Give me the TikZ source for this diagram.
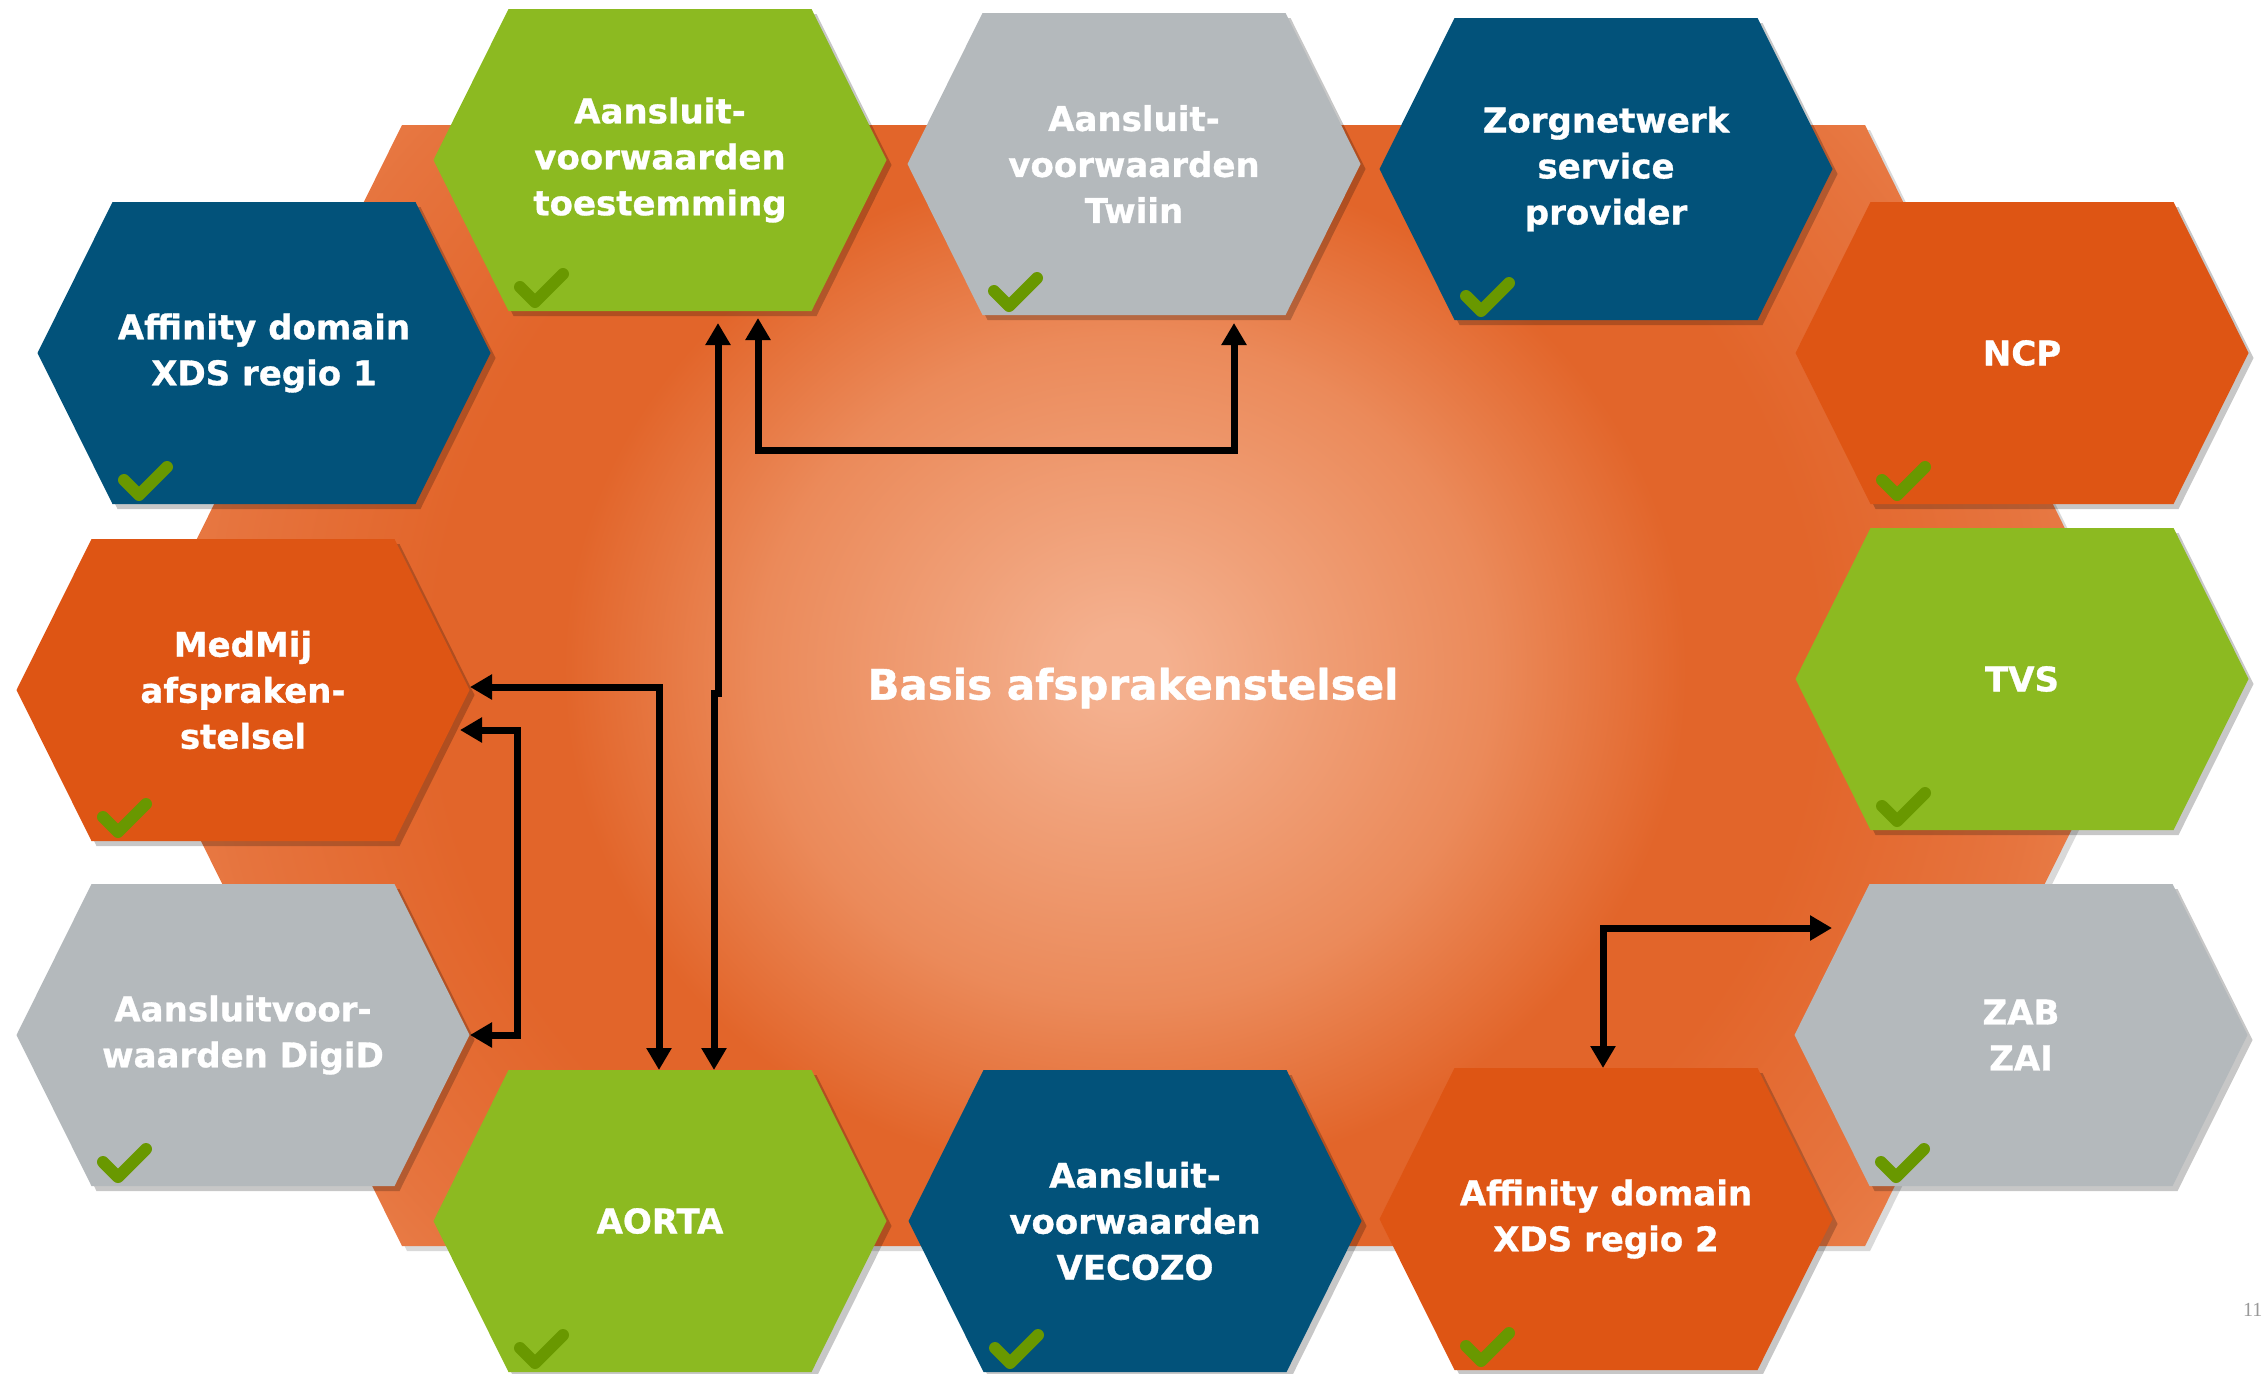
\documentclass[tikz,border=0pt]{standalone}
\usepackage{fontspec}
\setmainfont{DejaVu Sans}
\newfontfamily\heavyfont[BoldFont={DejaVu Sans Bold}, BoldFeatures={FakeBold=0.9}]{DejaVu Sans}
\newfontfamily\pgserif{Liberation Serif}
\usetikzlibrary{arrows.meta,shadows,calc}
\definecolor{hgreen}{HTML}{8CBA21}
\definecolor{hgray}{HTML}{B4B9BC}
\definecolor{hblue}{HTML}{02527A}
\definecolor{horange}{HTML}{DE5514}
\definecolor{chk}{HTML}{699800}
\definecolor{pch}{HTML}{F4B08E}
\definecolor{lorgA}{HTML}{F0A078}
\definecolor{morg}{HTML}{EB8A5A}
\definecolor{dorg}{HTML}{E2652A}
\definecolor{eorg}{HTML}{E6743E}
\definecolor{lorg}{HTML}{EC8752}
\pgfdeclareradialshading{bgshade}{\pgfpoint{0bp}{0bp}}{color(0bp)=(pch); color(1bp)=(pch); color(4bp)=(lorgA); color(8.5bp)=(morg); color(13bp)=(dorg); color(16bp)=(dorg); color(21bp)=(eorg); color(25bp)=(lorg); color(50bp)=(lorg)}
\tikzset{
  hexshadow/.style={drop shadow={shadow xshift=5pt, shadow yshift=-5pt, opacity=0.22, fill=black}},
  hexlabel/.style={text=white, align=center, font=\heavyfont\bfseries\fontsize{34}{46}\selectfont, inner sep=0pt},
  titlelabel/.style={text=white, font=\heavyfont\bfseries\fontsize{42}{50}\selectfont, inner sep=0pt},
  checkmark/.style={chk, line width=12pt, line cap=round, line join=round},
  conn/.style={line width=7pt, line join=miter, {Triangle[length=22pt,width=24pt]}-{Triangle[length=22pt,width=24pt]}},
  pagenum/.style={text=black!40, font=\pgserif\fontsize{20}{24}\selectfont, anchor=west, inner sep=0pt}
}
\newcommand\hexa[5]{%
  \begin{scope}[shift={(#2,#3)}]
    \fill[#4, hexshadow] (-226.5,0) -- (-151.5,-151) -- (151.5,-151) -- (226.5,0) -- (151.5,151) -- (-151.5,151) -- cycle;
    \draw[checkmark] (-140,127) -- (-125,142) -- (-97,114);
    \node[hexlabel] (#1) at (0,0) {#5};
  \end{scope}}
\begin{document}
\begin{tikzpicture}[x=1pt,y=-1pt]
\useasboundingbox (0,0) rectangle (2266,1373);
\fill[white] (0,0) rectangle (2266,1373);
% background hexagon
\fill[black, opacity=0.15] (129,691) -- (407,130) -- (1870,130) -- (2148,691) -- (1870,1251) -- (407,1251) -- cycle;
\begin{scope}
  \clip (124,686) -- (402,125) -- (1865,125) -- (2143,686) -- (1865,1246) -- (402,1246) -- cycle;
  \shade[shading=bgshade] (1125,670) ellipse[x radius=1080pt, y radius=980pt];
\end{scope}
\node[titlelabel] (basis) at (1133,688) {Basis afsprakenstelsel};
% hexagons
\hexa{toest}{660}{160}{hgreen}{Aansluit-\\voorwaarden\\toestemming}
\hexa{twiin}{1134}{164}{hgray}{Aansluit-\\voorwaarden\\Twiin}
\hexa{zsp}{1606}{169}{hblue}{Zorgnetwerk\\service\\provider}
\hexa{ncp}{2022}{353}{horange}{NCP}
\hexa{tvs}{2022}{679}{hgreen}{TVS}
\hexa{zab}{2021}{1035}{hgray}{ZAB\\ZAI}
\hexa{xdsb}{1606}{1219}{horange}{Affinity domain\\XDS regio 2}
\hexa{vecozo}{1135}{1221}{hblue}{Aansluit-\\voorwaarden\\VECOZO}
\hexa{aorta}{660}{1221}{hgreen}{AORTA}
\hexa{digid}{243}{1035}{hgray}{Aansluitvoor-\\waarden DigiD}
\hexa{medmij}{243}{690}{horange}{MedMij\\afspraken-\\stelsel}
\hexa{xdsa}{264}{353}{hblue}{Affinity domain\\XDS regio 1}
% connectors
\draw[conn] ($(toest)+(58,163)$) -- ($(toest)+(58,533)$) -- ($(aorta)+(54,-528)$) -- ($(aorta)+(54,-151)$);
\draw[conn] ($(toest)+(98,158)$) -- ($(toest)+(98,290)$) -| ($(twiin)+(100,159)$);
\draw[conn] ($(medmij)+(227,-3)$) -| ($(aorta)+(-1,-151)$);
\draw[conn] ($(medmij)+(217,40)$) -- ($(medmij)+(274,40)$) |- ($(digid)+(227,0)$);
\draw[conn] ($(xdsb)+(-3,-151)$) |- ($(zab)+(-189,-107)$);
\node[pagenum] (pg) at (2243,1310) {11};
\end{tikzpicture}
\end{document}
